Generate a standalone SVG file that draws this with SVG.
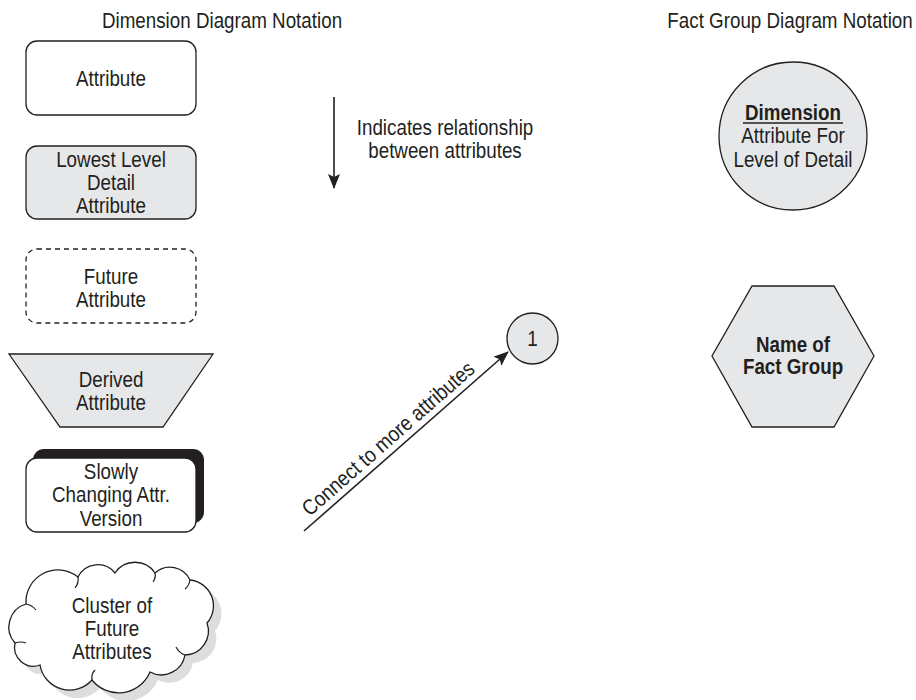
<svg xmlns="http://www.w3.org/2000/svg" width="916" height="700" viewBox="0 0 916 700">
  <style>
    /* condensed sans look: regular sans squeezed horizontally per label */
    text { font-family: "Liberation Sans", Arial, sans-serif; font-size: 21.5px; fill: #231f20; text-anchor: middle; }
    .bold { font-weight: bold; }
    .box { fill: #ffffff; stroke: #231f20; stroke-width: 1.3; }
    .grey { fill: #e6e7e9; stroke: #231f20; stroke-width: 1.3; }
    .dash { fill: #ffffff; stroke: #231f20; stroke-width: 1.3; stroke-dasharray: 5 4; }
    .wire { fill: none; stroke: #231f20; stroke-width: 1.6; }
    .curl { fill: none; stroke: #231f20; stroke-width: 1.2; }
  </style>
  <defs>
    <marker id="head" viewBox="0 0 15 12" refX="14" refY="6" markerWidth="15" markerHeight="12" markerUnits="userSpaceOnUse" orient="auto">
      <path d="M0,0 L15,6 L0,12 L3,6 z" fill="#231f20"/>
    </marker>
    <path id="cloudShape" d="M26,604 A32,32 0 0 1 78,577 A22,22 0 0 1 115,573 A24,24 0 0 1 155,573 A22,22 0 0 1 190,580 A26,26 0 0 1 207,623 A24,24 0 0 1 185,655 A24,24 0 0 1 150,672 A34,34 0 0 1 92,680 A30,30 0 0 1 40,665 A19,19 0 0 1 15,643 A24,24 0 0 1 26,604 z"/>
  </defs>

  <!-- section headings -->
  <text transform="translate(222,28) scale(0.874,1)">Dimension Diagram Notation</text>
  <text transform="translate(790,28) scale(0.874,1)">Fact Group Diagram Notation</text>

  <!-- dimension notation shapes -->
  <g id="attribute">
    <rect class="box" x="26" y="41" width="170" height="74" rx="11"/>
    <text transform="translate(111,86) scale(0.874,1)">Attribute</text>
  </g>

  <g id="lowest-level">
    <rect class="grey" x="26" y="146" width="170" height="73" rx="11"/>
    <text transform="translate(111,167) scale(0.874,1)">Lowest Level</text>
    <text transform="translate(111,190) scale(0.874,1)">Detail</text>
    <text transform="translate(111,213) scale(0.874,1)">Attribute</text>
  </g>

  <g id="future-attribute">
    <rect class="dash" x="26" y="249" width="170" height="74" rx="11"/>
    <text transform="translate(111,284) scale(0.874,1)">Future</text>
    <text transform="translate(111,307) scale(0.874,1)">Attribute</text>
  </g>

  <g id="derived-attribute">
    <polygon class="grey" points="9,354 213,354 163,427 60,427"/>
    <text transform="translate(111,387) scale(0.874,1)">Derived</text>
    <text transform="translate(111,410) scale(0.874,1)">Attribute</text>
  </g>

  <g id="slowly-changing">
    <rect x="33" y="449" width="171" height="74" rx="11" fill="#231f20"/>
    <rect class="box" x="26" y="458" width="170" height="74" rx="11"/>
    <text transform="translate(111,479) scale(0.874,1)">Slowly</text>
    <text transform="translate(111,502) scale(0.874,1)">Changing Attr.</text>
    <text transform="translate(111,526) scale(0.874,1)">Version</text>
  </g>

  <g id="future-cluster">
    <use href="#cloudShape" transform="translate(8,8)" fill="#dcdddf" stroke="none"/>
    <use href="#cloudShape" fill="#ffffff" stroke="#231f20" stroke-width="1.3"/>
    <!-- small inner curls where the puffs meet -->
    <path class="curl" d="M26,604 q6,1 10,6"/>
    <path class="curl" d="M78,577 q1,6 -3,11"/>
    <path class="curl" d="M155,573 q1,5 -2,9"/>
    <path class="curl" d="M190,580 q-1,6 -5,9"/>
    <path class="curl" d="M185,655 q-6,-2 -9,-8"/>
    <path class="curl" d="M92,680 q-1,-6 3,-10"/>
    <path class="curl" d="M15,643 q6,-2 11,0"/>
    <text transform="translate(112,613) scale(0.874,1)">Cluster of</text>
    <text transform="translate(112,636) scale(0.874,1)">Future</text>
    <text transform="translate(112,659) scale(0.874,1)">Attributes</text>
  </g>

  <g id="relationship-note">
    <text transform="translate(445,135) scale(0.874,1)">Indicates relationship</text>
    <text transform="translate(445,158) scale(0.874,1)">between attributes</text>
  </g>

  <g id="off-page">
    <circle class="grey" cx="532.5" cy="338.5" r="25.5"/>
    <text transform="translate(532.5,346) scale(0.874,1)">1</text>
  </g>

  <!-- fact group notation shapes -->
  <g id="dimension">
    <circle class="grey" cx="793" cy="136" r="74"/>
    <text class="bold" transform="translate(793,120) scale(0.874,1)">Dimension</text>
    <line x1="743" y1="123" x2="843" y2="123" stroke="#231f20" stroke-width="1.5"/>
    <text transform="translate(793,143) scale(0.874,1)">Attribute For</text>
    <text transform="translate(793,167) scale(0.874,1)">Level of Detail</text>
  </g>

  <g id="fact-group">
    <polygon class="grey" points="752,286 834,286 874,356 834,427 752,427 712,356"/>
    <text class="bold" transform="translate(793,352) scale(0.874,1)">Name of</text>
    <text class="bold" transform="translate(793,374) scale(0.874,1)">Fact Group</text>
  </g>

  <!-- connectors -->
  <g id="connectors">
    <line class="wire" x1="334" y1="97" x2="334" y2="188" marker-end="url(#head)"/>
    <line class="wire" x1="304" y1="531" x2="508" y2="352" marker-end="url(#head)"/>
    <text transform="translate(393,444) rotate(-41.3) scale(0.874,1)">Connect to more attributes</text>
  </g>
</svg>
